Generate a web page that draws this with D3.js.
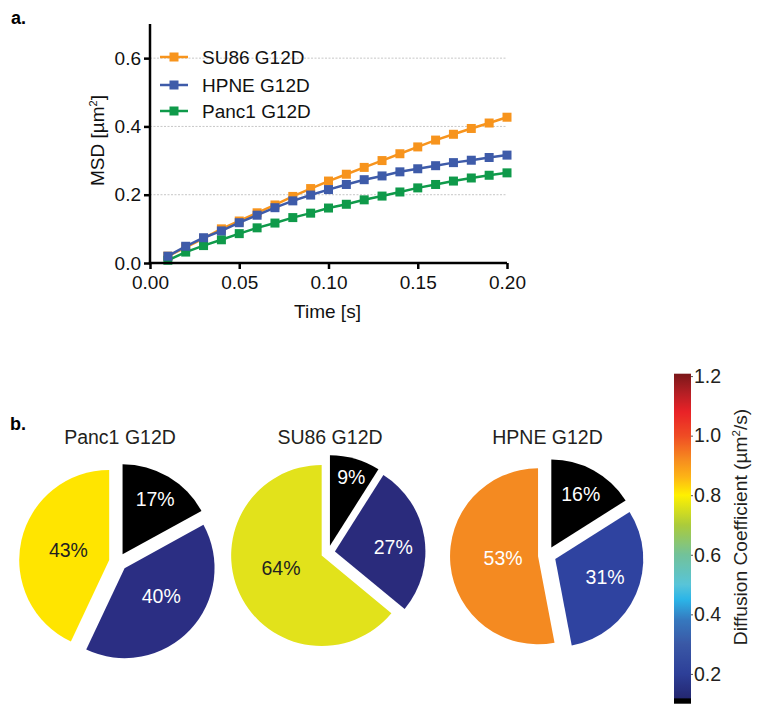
<!DOCTYPE html>
<html>
<head>
<meta charset="utf-8">
<script src="https://cdn.jsdelivr.net/npm/d3@7"></script>
<style>
  html, body { margin: 0; padding: 0; background: #fff; }
  svg { display: block; font-family: "Liberation Sans", Arial, Helvetica, sans-serif; }
</style>
</head>
<body>
<svg id="chart" width="760" height="718"></svg>
<script>
// ---------------- DATA ----------------
const times = [0.01,0.02,0.03,0.04,0.05,0.06,0.07,0.08,0.09,0.10,0.11,0.12,0.13,0.14,0.15,0.16,0.17,0.18,0.19,0.20];
const su86 = [0.020,0.046,0.072,0.100,0.123,0.147,0.170,0.195,0.218,0.240,0.260,0.280,0.300,0.320,0.340,0.360,0.377,0.394,0.410,0.427];
const hpne = [0.020,0.049,0.074,0.094,0.118,0.140,0.162,0.182,0.199,0.215,0.230,0.244,0.255,0.267,0.276,0.285,0.294,0.301,0.309,0.316];
const panc1 = [0.008,0.032,0.051,0.068,0.086,0.103,0.117,0.133,0.146,0.161,0.172,0.185,0.196,0.208,0.220,0.230,0.240,0.249,0.257,0.264];
const seriesNames = ["SU86 G12D", "HPNE G12D", "Panc1 G12D"];
const xTicks = [0, 0.05, 0.10, 0.15, 0.20];
const yTicks = [0, 0.2, 0.4, 0.6];

const pieTitles = ["Panc1 G12D", "SU86 G12D", "HPNE G12D"];
const immobilePct = [17, 9, 16];
const slowPct = [40, 27, 31];
const fastPct = [43, 64, 53];

const cbarTicks = [0.2, 0.4, 0.6, 0.8, 1.0, 1.2];

// ---------------- STYLE / LAYOUT ----------------
const seriesColors = ["#F7941D", "#3E5BA9", "#0F9A4A"];
const drawOrder = [0, 2, 1];
const sliceColors = [
  ["#000000", "#2B2E83", "#FFE500"],
  ["#000000", "#2A2B7C", "#E2E21B"],
  ["#000000", "#2F43A0", "#F48A21"]
];
const labelColors = [
  ["#fff", "#fff", "#231F20"],
  ["#fff", "#fff", "#231F20"],
  ["#fff", "#fff", "#fff"]
];
const pieLayout = [
  { cx: 118, cy: 562, r: 90, explode: 9, labelR: [73, 55, 51], labelTweak: [0, -5, 1] },
  { cx: 328, cy: 552.5, r: 90.5, explode: 7, labelR: [79, 65.5, 49.5], labelTweak: [1, 4, 7] },
  { cx: 547, cy: 555.5, r: 88, explode: 9, labelR: [70, 62, 44], labelTweak: [0, -3, 2] }
];
const titleX = [120, 330, 547.5];

const svg = d3.select("#chart");
const FONT = "\"Liberation Sans\", Arial, Helvetica, sans-serif";

// ---------------- PANEL A: line chart ----------------
const x = d3.scaleLinear().domain([0, 0.2]).range([150, 507]);
const y = d3.scaleLinear().domain([0, 0.7]).range([263, 24]);

svg.append("text").attr("x", 11).attr("y", 24).attr("font-size", 18).attr("font-weight", "bold").text("a.");

// gridlines
svg.append("g").selectAll("line").data(yTicks.filter(d => d > 0)).join("line")
  .attr("x1", x(0)).attr("x2", x(0.2))
  .attr("y1", d => y(d)).attr("y2", d => y(d))
  .attr("stroke", "#b8b8b8").attr("stroke-width", 0.8).attr("stroke-dasharray", "2,1.5");

const series = [su86, hpne, panc1];
const line = d3.line().x((d, i) => x(times[i])).y(d => y(d));
drawOrder.forEach(si => {
  const g = svg.append("g");
  g.append("path").datum(series[si]).attr("d", line)
    .attr("fill", "none").attr("stroke", seriesColors[si]).attr("stroke-width", 2.5);
  g.selectAll("rect").data(series[si]).join("rect")
    .attr("x", (d, i) => x(times[i]) - 4.5).attr("y", d => y(d) - 4.5)
    .attr("width", 9).attr("height", 9).attr("fill", seriesColors[si]);
});

// axes
const xAxis = svg.append("g").attr("transform", `translate(0,${y(0)})`)
  .call(d3.axisBottom(x).tickValues(xTicks).tickFormat(d3.format(".2f")).tickSize(6).tickSizeOuter(0).tickPadding(7));
const yAxis = svg.append("g").attr("transform", `translate(${x(0)},0)`)
  .call(d3.axisLeft(y).tickValues(yTicks).tickFormat(d3.format(".1f")).tickSize(6).tickSizeOuter(0).tickPadding(3));
[xAxis, yAxis].forEach(a => {
  a.select(".domain").attr("stroke", "#000").attr("stroke-width", 2.5);
  a.selectAll(".tick line").attr("stroke", "#000").attr("stroke-width", 2.5);
  a.selectAll(".tick text").attr("font-size", 19).attr("font-family", FONT).attr("fill", "#111");
});
yAxis.select(".domain").attr("d", `M0,${y(0) + 1.25}V${y(0.7)}`);
xAxis.select(".domain").attr("d", `M${x(0) - 1.25},0H${x(0.2)}`);

svg.append("text").attr("x", (x(0) + x(0.2)) / 2 - 1).attr("y", 318)
  .attr("text-anchor", "middle").attr("font-size", 19).attr("fill", "#111").text("Time [s]");
const yl = svg.append("text").attr("transform", `translate(104,${(y(0) + y(0.7)) / 2 - 3}) rotate(-90)`)
  .attr("text-anchor", "middle").attr("font-size", 19).attr("fill", "#111");
yl.append("tspan").text("MSD [\u00B5m");
yl.append("tspan").attr("font-size", 11).attr("dy", -7).text("2");
yl.append("tspan").attr("dy", 7).text("]");

// legend
const legY = [57, 85, 111];
seriesNames.forEach((name, i) => {
  const g = svg.append("g");
  g.append("line").attr("x1", 160).attr("x2", 188).attr("y1", legY[i]).attr("y2", legY[i])
    .attr("stroke", seriesColors[i]).attr("stroke-width", 2.5);
  g.append("rect").attr("x", 174 - 4.5).attr("y", legY[i] - 4.5).attr("width", 9).attr("height", 9).attr("fill", seriesColors[i]);
  g.append("text").attr("x", 202).attr("y", legY[i] + 6.5).attr("font-size", 19).attr("fill", "#111").text(name);
});

// ---------------- PANEL B: pies ----------------
svg.append("text").attr("x", 10).attr("y", 430).attr("font-size", 18).attr("font-weight", "bold").text("b.");

const pie = d3.pie().sort(null).value(d => d);
pieTitles.forEach((title, p) => {
  const L = pieLayout[p];
  const vals = [immobilePct[p], slowPct[p], fastPct[p]];
  const arcs = pie(vals);
  const arc = d3.arc().innerRadius(0).outerRadius(L.r);
  const g = svg.append("g").attr("transform", `translate(${L.cx},${L.cy})`);
  arcs.forEach((a, i) => {
    const mid = (a.startAngle + a.endAngle) / 2;
    g.append("path").attr("d", arc(a))
      .attr("transform", `translate(${L.explode * Math.sin(mid)},${-L.explode * Math.cos(mid)})`)
      .attr("fill", sliceColors[p][i]);
    const la = mid + L.labelTweak[i] * Math.PI / 180;
    g.append("text")
      .attr("x", L.labelR[i] * Math.sin(la)).attr("y", -L.labelR[i] * Math.cos(la))
      .attr("text-anchor", "middle").attr("dy", "0.36em")
      .attr("font-size", 19.5).attr("fill", labelColors[p][i]).text(a.data + "%");
  });
  svg.append("text").attr("x", titleX[p]).attr("y", 444).attr("text-anchor", "middle")
    .attr("font-size", 19.5).attr("fill", "#231F20").text(title);
});

// ---------------- COLORBAR ----------------
const cb = d3.scaleLinear().domain([0.1, 1.208]).range([703.7, 373.7]);
const cmapStops = [0.100, 0.117, 0.118, 0.20, 0.30, 0.38, 0.45, 0.50, 0.60, 0.70, 0.80, 0.86, 0.92, 1.00, 1.08, 1.14, 1.208];
const cmapColors = ["#000000", "#000000", "#242770", "#2D3F98", "#3A58A6", "#3678BE", "#2BB5E8", "#58C4D8", "#72C29A", "#ABCB3B", "#FFF100", "#FDB515", "#F68B1F", "#EF4B24", "#E92227", "#B71F25", "#7A1719"];
const cmap = d3.scaleLinear().domain(cmapStops).range(cmapColors);
const defs = svg.append("defs");
const grad = defs.append("linearGradient").attr("id", "cbar").attr("x1", 0).attr("x2", 0).attr("y1", 1).attr("y2", 0);
d3.range(0.1, 1.2081, 0.004).forEach(v => {
  grad.append("stop").attr("offset", (v - 0.1) / (1.208 - 0.1)).attr("stop-color", cmap(v));
});
svg.append("rect").attr("x", 674).attr("y", cb(1.208)).attr("width", 17).attr("height", cb(0.1) - cb(1.208))
  .attr("fill", "url(#cbar)");
const cbAxis = svg.append("g").attr("transform", "translate(691,0)")
  .call(d3.axisRight(cb).tickValues(cbarTicks).tickFormat(d3.format(".1f")).tickSize(2).tickSizeOuter(0).tickPadding(1));
cbAxis.select(".domain").remove();
cbAxis.selectAll(".tick line").attr("stroke", "#555").attr("stroke-width", 1);
cbAxis.selectAll(".tick text").attr("font-size", 19.5).attr("font-family", FONT).attr("fill", "#231F20");

const cl = svg.append("text").attr("transform", "translate(747,527) rotate(-90)")
  .attr("text-anchor", "middle").attr("font-size", 19.2).attr("fill", "#231F20");
cl.append("tspan").text("Diffusion Coefficient (\u00B5m");
cl.append("tspan").attr("font-size", 11.5).attr("dy", -7).text("2");
cl.append("tspan").attr("dy", 7).text("/s)");
</script>
</body>
</html>
